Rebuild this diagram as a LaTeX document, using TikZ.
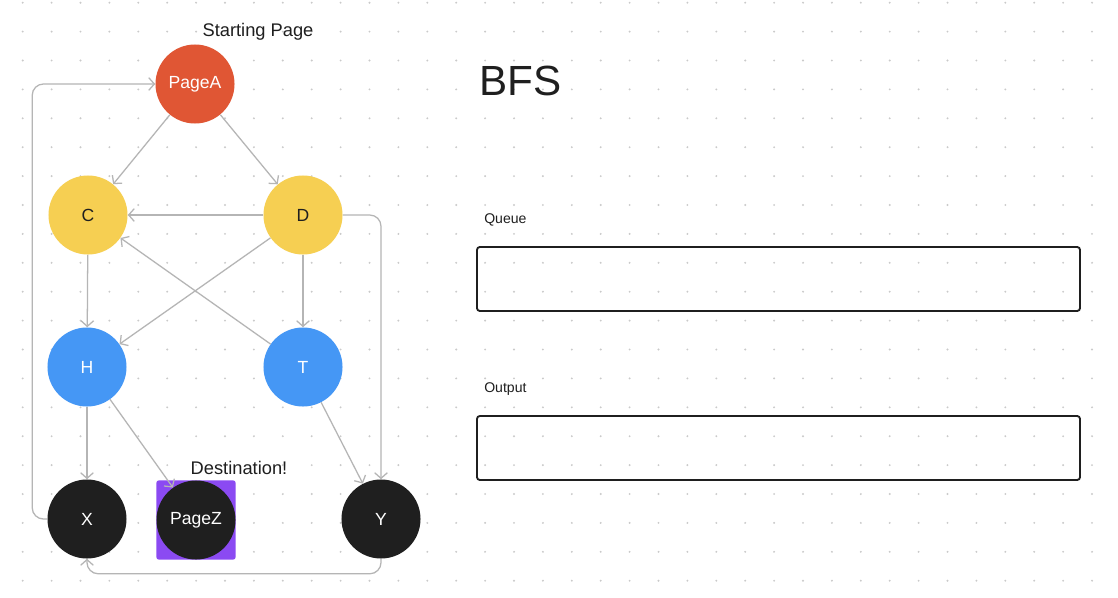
\documentclass[tikz,border=0pt]{standalone}
\usepackage{fontspec}
\setmainfont{Liberation Sans}
\usetikzlibrary{arrows.meta}
\definecolor{pagered}{HTML}{E05634}
\definecolor{pageyellow}{HTML}{F6CF52}
\definecolor{pageblue}{HTML}{4597F5}
\definecolor{pageblack}{HTML}{1F1F1F}
\definecolor{destpurple}{HTML}{8B4AF2}
\definecolor{linkgray}{HTML}{B5B5B5}
\definecolor{dotgray}{HTML}{CACACA}
\tikzset{
  page/.style={circle, minimum size=1.975cm, inner sep=0pt, font=\fontsize{12.5pt}{14pt}\selectfont},
  link/.style={linkgray, line width=0.9pt, -{Straight Barb[length=4pt,width=9pt]}},
  panel/.style={draw=pageblack, line width=1.3pt, rounded corners=2pt},
  note/.style={inner sep=0pt, text=pageblack, font=\fontsize{13pt}{15pt}\selectfont},
}

\begin{document}
\begin{tikzpicture}[x=0.025cm, y=-0.025cm]
\useasboundingbox[fill=white] (0,0) rectangle (1118,598);
% dot grid
\foreach \i in {0,...,37}
  \foreach \j in {0,...,20}
    \fill[dotgray] (22.7+28.9*\i, 2.7+28.9*\j) circle (0.75pt);

\node[page, fill=pagered, text=white] (A) at (195,84) {PageA};
\node[page, fill=pageyellow, text=pageblack] (C) at (88,215) {C};
\node[page, fill=pageyellow, text=pageblack] (D) at (303,215) {D};
\node[page, fill=pageblue, text=white] (H) at (87,367) {H};
\node[page, fill=pageblue, text=white] (T) at (303,367) {T};
\node[page, fill=pageblack, text=white] (X) at (87,519) {X};
\node[fill=destpurple, minimum size=1.975cm, inner sep=0pt, rounded corners=1.5pt] (Zbox) at (196,520) {};
\node[page, fill=pageblack, text=white] (Z) at (196,520) {PageZ};
\node[page, fill=pageblack, text=white] (Y) at (381,519) {Y};

\node[note] (start) at (258,32) {Starting Page};
\node[note] (dest) at (239,468) {Destination!};

\draw[link] (A) -- (C);
\draw[link] (A) -- (D);
\draw[link] (D) -- (C);
\draw[link] (T) -- (C);
\draw[link] (D) -- (H);
\draw[link] (C) -- (H);
\draw[link] (D) -- (T);
\draw[link] (H) -- (X);
\draw[link] (H) -- (Z);
\draw[link] (T) -- (Y);
\draw[link, rounded corners=8pt] (D.east) -| (Y.north);
\draw[link, rounded corners=8pt] (Y.south) -- ++(0,15) -| (X.south);
\draw[link, rounded corners=8pt] (X.west) -- ++(-15,0) |- (A.west);

% BFS side
\node[anchor=base west, inner sep=0pt, text=pageblack, font=\fontsize{30pt}{34pt}\selectfont] (bfs) at (479,95) {BFS};
\node[anchor=base west, inner sep=0pt, text=pageblack, font=\fontsize{10pt}{12pt}\selectfont] (queue) at (484,223) {Queue};
\node[anchor=base west, inner sep=0pt, text=pageblack, font=\fontsize{10pt}{12pt}\selectfont] (output) at (484,392) {Output};
\draw[panel] (477,247) rectangle (1080,311);
\draw[panel] (477,416) rectangle (1080,480);
\end{tikzpicture}
\end{document}
